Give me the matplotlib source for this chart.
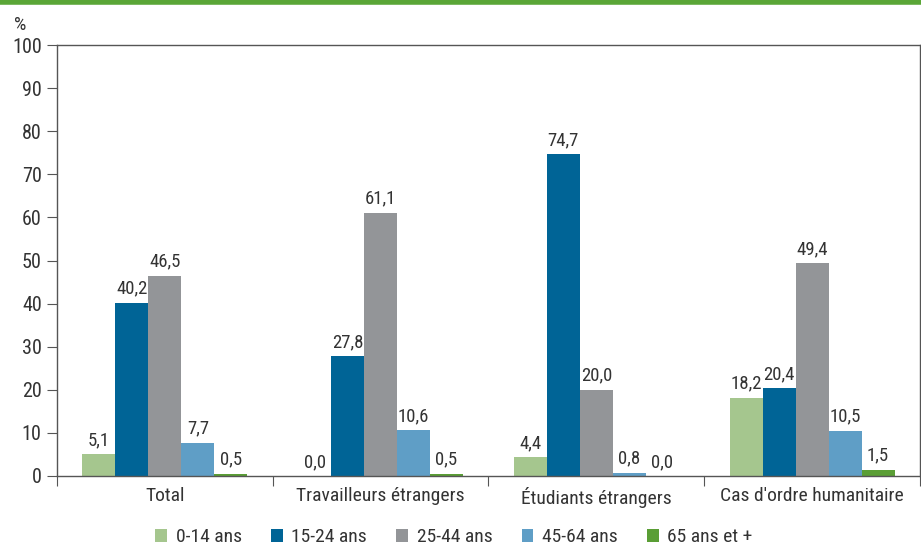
import numpy as np
import matplotlib
matplotlib.use("Agg")
import matplotlib.pyplot as plt
from matplotlib import font_manager

installed = {f.name for f in font_manager.fontManager.ttflist}
for fam in ["Liberation Sans Narrow", "DejaVu Sans Condensed", "Roboto Condensed",
            "Open Sans Condensed", "Roboto", "Liberation Sans"]:
    if fam in installed:
        break
plt.rcParams['font.family'] = [fam, 'DejaVu Sans']

categories = ["Total", "Travailleurs étrangers", "Étudiants étrangers", "Cas d'ordre humanitaire"]
age_groups = ["0-14 ans", "15-24 ans", "25-44 ans", "45-64 ans", "65 ans et +"]
values = {
    "0-14 ans":    [5.1, 0.0, 4.4, 18.2],
    "15-24 ans":   [40.2, 27.8, 74.7, 20.4],
    "25-44 ans":   [46.5, 61.1, 20.0, 49.4],
    "45-64 ans":   [7.7, 10.6, 0.8, 10.5],
    "65 ans et +": [0.5, 0.5, 0.0, 1.5],
}
colors = ["#a5c68e", "#006496", "#939598", "#5f9ec6", "#5a9e35"]
txt = "#333333"

fig = plt.figure(figsize=(9.21, 5.47), dpi=100)
ax = fig.add_axes([0.0619, 0.1298, 0.937, 0.7879])

x = np.arange(len(categories))
bw = 0.764 / len(age_groups)
for k, (name, col) in enumerate(zip(age_groups, colors)):
    pos = x - 0.382 + bw * (k + 0.5)
    vals = values[name]
    ax.bar(pos, vals, width=bw, color=col, label=name)
    for p, v in zip(pos, vals):
        ax.text(p, v + 2.1, f"{v:.1f}".replace(".", ","), ha="center", va="baseline",
                fontsize=13.5, color=txt)

ax.set_xlim(-0.5, len(categories) - 0.5)
ax.set_ylim(0, 100)
ax.set_yticks(range(0, 101, 10))
ax.tick_params(axis="y", labelsize=14.5, length=7, color="#555555", labelcolor=txt, pad=4)
ax.set_xticks(np.arange(len(categories) + 1) - 0.5, minor=False)
ax.set_xticklabels([])
ax.set_xticks(x, minor=True)
ax.set_xticklabels(categories, minor=True, fontsize=14, color=txt)
ax.tick_params(axis="x", which="major", length=7, color="#555555")
ax.tick_params(axis="x", which="minor", length=0, pad=8)
for s in ax.spines.values():
    s.set_color("#555555")
    s.set_linewidth(1)

fig.text(0.015, 0.945, "%", fontsize=14, color=txt)
fig.add_artist(plt.Line2D([0, 1], [0.997, 0.997], color="#5aa637", lw=4, transform=fig.transFigure))

ax.legend(loc="center", bbox_to_anchor=(0.46, -0.142), ncol=5, frameon=False,
          fontsize=14, handlelength=0.6, handleheight=0.6, handletextpad=0.45,
          columnspacing=1.5, labelcolor=txt)

fig.savefig("out.png", dpi=100)
